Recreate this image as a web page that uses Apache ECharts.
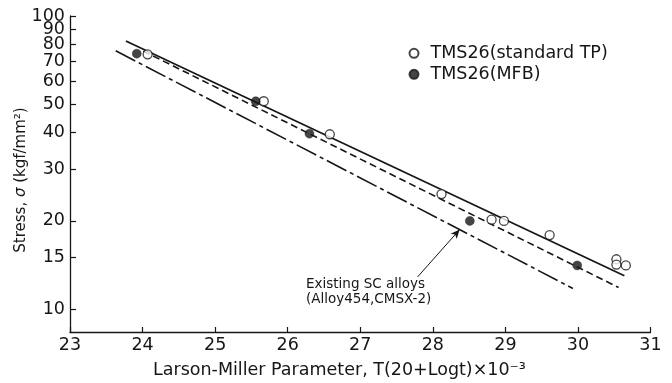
<!DOCTYPE html>
<html>
<head>
<meta charset="utf-8">
<script src="https://cdn.jsdelivr.net/npm/echarts@6/dist/echarts.min.js"></script>
<style>
  html, body { margin: 0; padding: 0; background: #fff; }
  #chart { width: 672px; height: 383px; }
</style>
</head>
<body>
<div id="chart"></div>
<script>
// Larson-Miller parameter (x) vs. rupture stress (y, kgf/mm2)
const standardTpLmp    = [24.07, 25.67, 26.58, 28.12, 28.81, 28.98, 29.61, 30.53, 30.53, 30.66];
const standardTpStress = [74.0, 51.2, 39.5, 24.7, 20.2, 20.0, 17.9, 14.8, 14.2, 14.1];

const mfbLmp    = [23.92, 25.56, 26.30, 28.51, 29.99];
const mfbStress = [74.4, 51.2, 39.7, 20.0, 14.1];

// Fitted trend lines (end points)
const standardFitLmp    = [23.77, 30.64];
const standardFitStress = [82.2, 13.0];
const mfbFitLmp    = [24.01, 30.56];
const mfbFitStress = [75.9, 11.86];
const existingLmp    = [23.63, 29.93];
const existingStress = [76.1, 11.77];

// Arrow pointing at the existing-alloy line
const arrowFrom = [27.79, 12.88];
const arrowTo   = [28.37, 18.69];

// Axis ticks
const xTicks = [23, 24, 25, 26, 27, 28, 29, 30, 31];
const yTicks = [10, 15, 20, 30, 40, 50, 60, 70, 80, 90, 100];
// labels that sit too close to a neighbour go on an overlay axis so none get dropped
const yTicksOverlay = [90];
const yTicksMain = yTicks.filter(v => yTicksOverlay.indexOf(v) < 0);

const zip = (xs, ys) => xs.map((x, i) => [x, ys[i]]);

const INK = '#161616';
const FONT = 'DejaVu Sans';
const Y_MIN = 8.36, Y_MAX = 100;

const chart = echarts.init(document.getElementById('chart'), null, { renderer: 'canvas' });

const yLabelStyle = {
  show: true, margin: 5, color: INK, fontFamily: FONT, fontSize: 17.5,
  showMaxLabel: true, showMinLabel: true, hideOverlap: false
};

chart.setOption({
  animation: false,
  backgroundColor: '#ffffff',
  grid: { left: 70, right: 21.5, top: 16, bottom: 51, containLabel: false },
  xAxis: {
    type: 'value',
    min: xTicks[0],
    max: xTicks[xTicks.length - 1],
    interval: 1,
    axisLine: { show: true, lineStyle: { color: INK, width: 1.3 } },
    axisTick: { show: true, inside: true, length: 5, lineStyle: { color: INK, width: 1.2 } },
    axisLabel: { show: true, margin: 4, color: INK, fontFamily: FONT, fontSize: 17.5, hideOverlap: false },
    splitLine: { show: false }
  },
  yAxis: [
    {
      type: 'log',
      logBase: 10,
      min: Y_MIN,
      max: Y_MAX,
      position: 'left',
      axisLine: { show: true, lineStyle: { color: INK, width: 1.3 } },
      axisTick: { show: true, inside: true, length: 6, customValues: yTicks, lineStyle: { color: INK, width: 1.2 } },
      axisLabel: Object.assign({ customValues: yTicksMain }, yLabelStyle),
      splitLine: { show: false },
      minorTick: { show: false }
    },
    {
      type: 'log',
      logBase: 10,
      min: Y_MIN,
      max: Y_MAX,
      position: 'left',
      offset: 0,
      axisLine: { show: false },
      axisTick: { show: false },
      axisLabel: Object.assign({ customValues: yTicksOverlay }, yLabelStyle),
      splitLine: { show: false },
      minorTick: { show: false }
    }
  ],
  legend: {
    orient: 'vertical',
    left: 408.5,
    top: 44.3,
    itemWidth: 9,
    itemHeight: 9,
    itemGap: 3,
    padding: 0,
    selectedMode: false,
    data: [
      { name: 'TMS26(standard TP)', icon: 'circle' },
      { name: 'TMS26(MFB)', icon: 'circle' }
    ],
    textStyle: { color: INK, fontFamily: FONT, fontSize: 17.5, lineHeight: 18, padding: [0, 0, 0, 7] }
  },
  series: [
    {
      name: 'standard fit',
      type: 'line',
      data: zip(standardFitLmp, standardFitStress),
      showSymbol: false,
      symbol: 'none',
      lineStyle: { color: INK, width: 1.8, type: 'solid' },
      z: 2
    },
    {
      name: 'MFB fit',
      type: 'line',
      data: zip(mfbFitLmp, mfbFitStress),
      showSymbol: false,
      symbol: 'none',
      lineStyle: { color: INK, width: 1.6, type: [7, 4] },
      z: 2
    },
    {
      name: 'Existing SC alloys',
      type: 'line',
      data: zip(existingLmp, existingStress),
      showSymbol: false,
      symbol: 'none',
      lineStyle: { color: INK, width: 1.6, type: [22, 4, 4, 4] },
      z: 2,
      markLine: {
        silent: true,
        symbol: ['none', 'arrow'],
        symbolSize: [6, 9],
        label: { show: false },
        lineStyle: { color: INK, width: 1, type: 'solid' },
        data: [[{ coord: arrowFrom }, { coord: arrowTo }]]
      }
    },
    {
      name: 'TMS26(standard TP)',
      type: 'scatter',
      data: zip(standardTpLmp, standardTpStress),
      symbol: 'circle',
      symbolSize: 9,
      itemStyle: { color: '#ffffff', borderColor: INK, borderWidth: 1.3 },
      z: 5
    },
    {
      name: 'TMS26(MFB)',
      type: 'scatter',
      data: zip(mfbLmp, mfbStress),
      symbol: 'circle',
      symbolSize: 9,
      itemStyle: { color: INK, borderColor: INK, borderWidth: 0.5 },
      z: 6
    }
  ],
  graphic: [
    {
      type: 'text',
      left: 153,
      top: 361,
      style: {
        text: 'Larson-Miller Parameter, T(20+Logt)\u00d710\u207b\u00b3',
        fill: INK,
        font: '17.5px "DejaVu Sans"'
      }
    },
    {
      type: 'text',
      x: 21,
      y: 180,
      rotation: Math.PI / 2,
      style: {
        text: '{a|Stress, }{i|\u03c3}{a| (kgf/mm\u00b2)}',
        align: 'center',
        verticalAlign: 'middle',
        fill: INK,
        rich: {
          a: { fontFamily: FONT, fontSize: 15, fill: INK },
          i: { fontFamily: FONT, fontSize: 15, fontStyle: 'italic', fill: INK }
        }
      }
    },
    {
      type: 'text',
      x: 306,
      y: 277,
      style: {
        text: 'Existing SC alloys\n(Alloy454,CMSX-2)',
        fill: INK,
        font: '13.5px "DejaVu Sans"',
        lineHeight: 15
      }
    }
  ]
});
</script>
</body>
</html>
